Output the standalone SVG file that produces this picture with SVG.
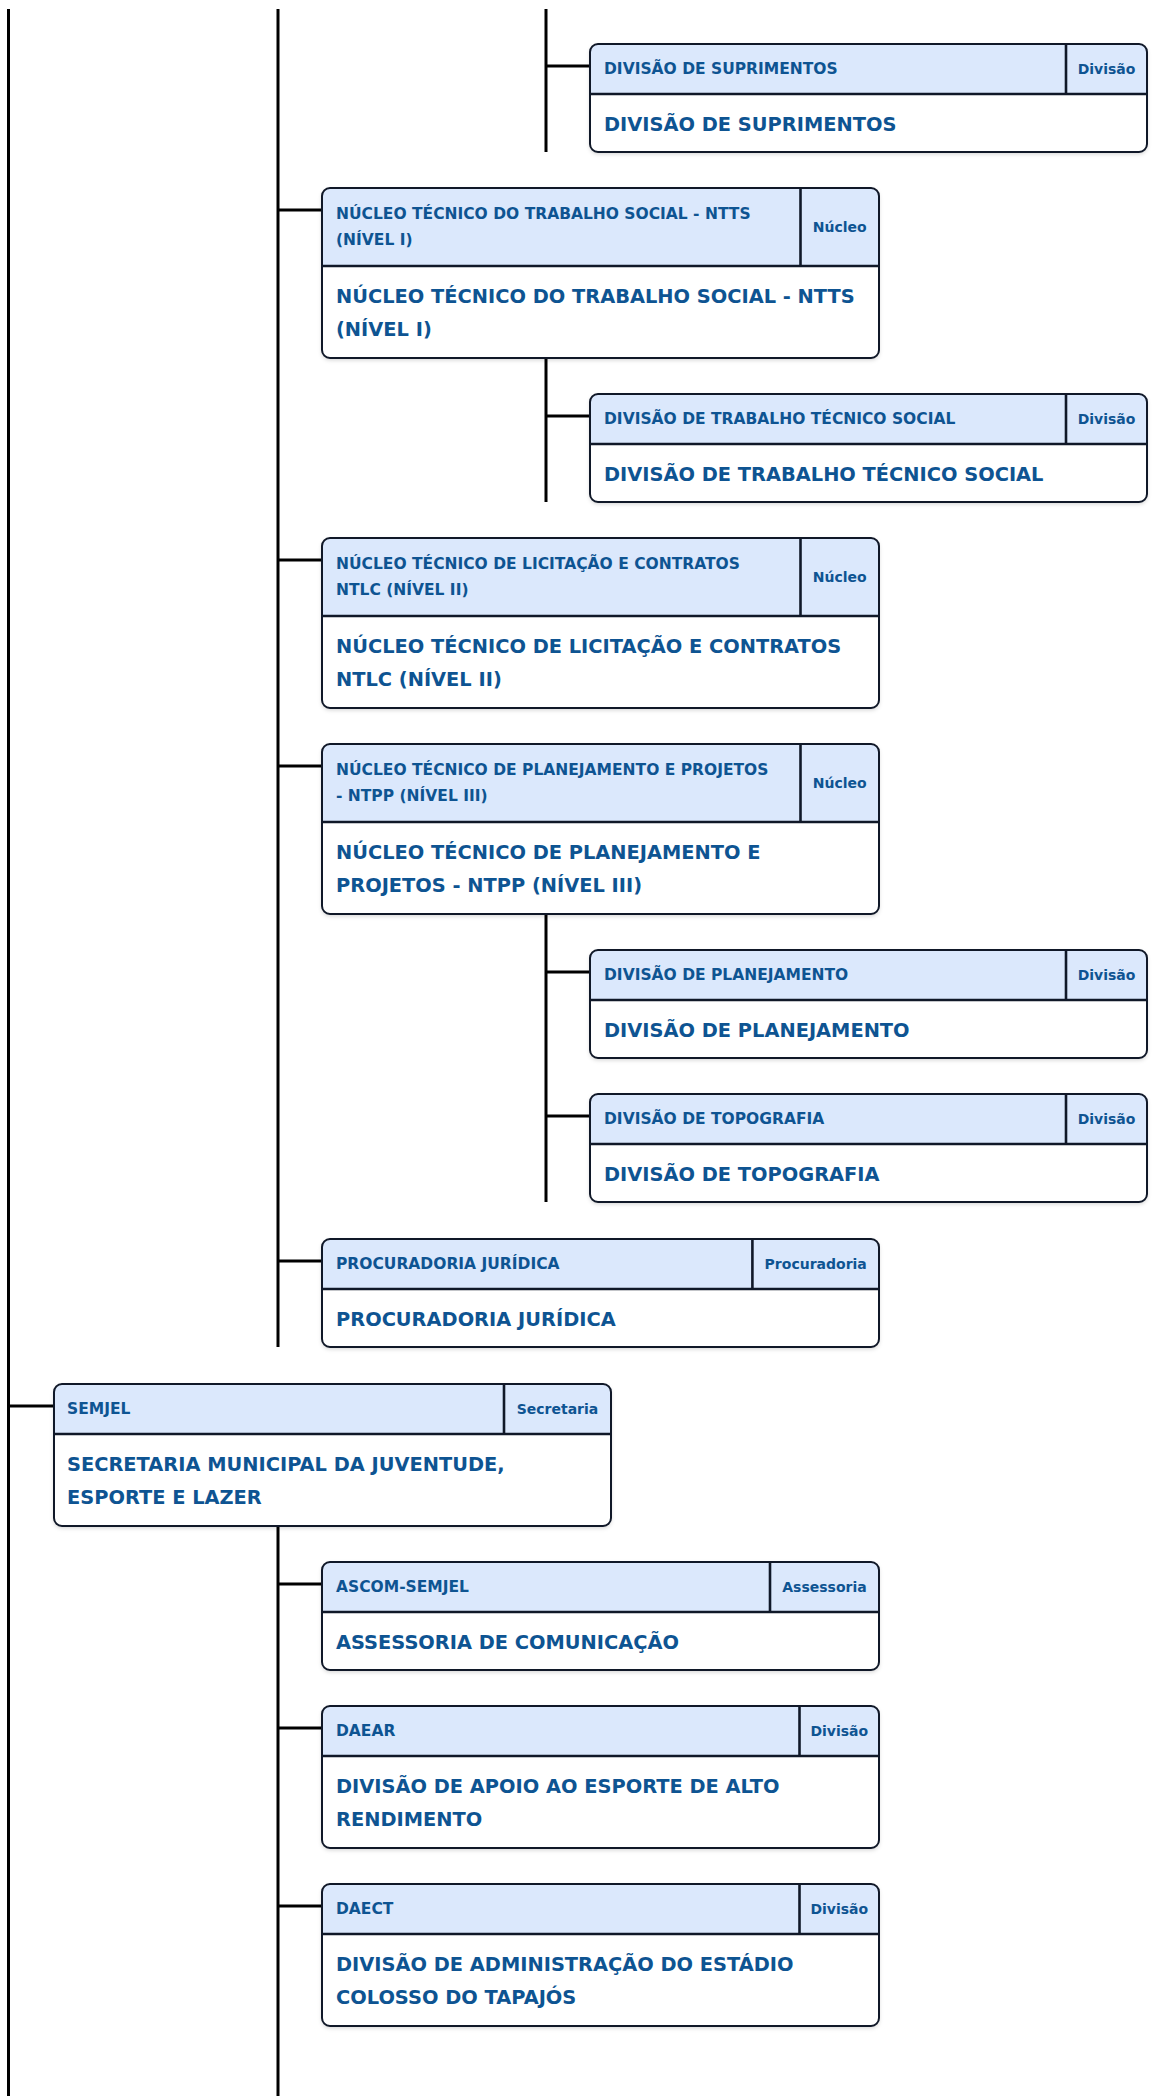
<svg xmlns="http://www.w3.org/2000/svg" width="1152" height="2096" viewBox="0 0 1152 2096">
<defs>
<filter id="sh" x="-5%" y="-10%" width="110%" height="130%">
<feDropShadow dx="0" dy="2" stdDeviation="2" flood-color="#000" flood-opacity="0.18"/>
</filter>
<style>
.bg{fill:#fff;filter:url(#sh)}
.head{fill:#dbe8fc}
.fr{fill:none;stroke:#101828;stroke-width:2}
.dv{stroke:#101828;stroke-width:2.6}
.ht{font-family:"DejaVu Sans",sans-serif;font-weight:bold;font-size:15.5px;fill:#0e5492}
.bt{font-family:"DejaVu Sans",sans-serif;font-weight:bold;font-size:19.4px;fill:#0e5492}
.bd{font-family:"DejaVu Sans",sans-serif;font-weight:bold;font-size:14px;fill:#0e5492;text-anchor:middle}
.cn{stroke:#000;stroke-width:3;fill:none}
</style>
</defs>
<rect width="1152" height="2096" fill="#fff"/>
<g id="connectors">
<path class="cn" d="M8.5 9V2096M278 9V1347M278 1526V2096M546 9V152M546 358V502M546 914V1202"/>
<path class="cn" d="M546 66H590M278 210H322M546 416H590M278 560H322M278 766H322M546 972H590M546 1116H590M278 1261H322M8.5 1406H54M278 1584H322M278 1728H322M278 1906H322"/>
</g>
<g id="div-suprimentos">
<rect class="bg" x="590" y="44" width="557" height="108" rx="8"/>
<path class="head" d="M590 94V52A8 8 0 0 1 598 44H1139A8 8 0 0 1 1147 52V94Z"/>
<line class="dv" x1="590" y1="94" x2="1147" y2="94"/><line class="dv" x1="1066" y1="44" x2="1066" y2="94"/>
<rect class="fr" x="590" y="44" width="557" height="108" rx="8"/>
<text class="ht" x="604" y="73.5">DIVISÃO DE SUPRIMENTOS</text>
<text class="bd" x="1106.5" y="74">Divisão</text>
<text class="bt" x="604" y="130.5">DIVISÃO DE SUPRIMENTOS</text>
</g>
<g id="ntts">
<rect class="bg" x="322" y="188" width="557" height="170" rx="8"/>
<path class="head" d="M322 266V196A8 8 0 0 1 330 188H871A8 8 0 0 1 879 196V266Z"/>
<line class="dv" x1="322" y1="266" x2="879" y2="266"/><line class="dv" x1="800.5" y1="188" x2="800.5" y2="266"/>
<rect class="fr" x="322" y="188" width="557" height="170" rx="8"/>
<text class="ht" x="336" y="219">NÚCLEO TÉCNICO DO TRABALHO SOCIAL - NTTS</text>
<text class="ht" x="336" y="245">(NÍVEL I)</text>
<text class="bd" x="839.75" y="232.3">Núcleo</text>
<text class="bt" x="336" y="302.5">NÚCLEO TÉCNICO DO TRABALHO SOCIAL - NTTS</text>
<text class="bt" x="336" y="336">(NÍVEL I)</text>
</g>
<g id="div-trabalho-tecnico-social">
<rect class="bg" x="590" y="394" width="557" height="108" rx="8"/>
<path class="head" d="M590 444V402A8 8 0 0 1 598 394H1139A8 8 0 0 1 1147 402V444Z"/>
<line class="dv" x1="590" y1="444" x2="1147" y2="444"/><line class="dv" x1="1066" y1="394" x2="1066" y2="444"/>
<rect class="fr" x="590" y="394" width="557" height="108" rx="8"/>
<text class="ht" x="604" y="423.5">DIVISÃO DE TRABALHO TÉCNICO SOCIAL</text>
<text class="bd" x="1106.5" y="424">Divisão</text>
<text class="bt" x="604" y="480.5">DIVISÃO DE TRABALHO TÉCNICO SOCIAL</text>
</g>
<g id="ntlc">
<rect class="bg" x="322" y="538" width="557" height="170" rx="8"/>
<path class="head" d="M322 616V546A8 8 0 0 1 330 538H871A8 8 0 0 1 879 546V616Z"/>
<line class="dv" x1="322" y1="616" x2="879" y2="616"/><line class="dv" x1="800.5" y1="538" x2="800.5" y2="616"/>
<rect class="fr" x="322" y="538" width="557" height="170" rx="8"/>
<text class="ht" x="336" y="569">NÚCLEO TÉCNICO DE LICITAÇÃO E CONTRATOS</text>
<text class="ht" x="336" y="595">NTLC (NÍVEL II)</text>
<text class="bd" x="839.75" y="582.3">Núcleo</text>
<text class="bt" x="336" y="652.5">NÚCLEO TÉCNICO DE LICITAÇÃO E CONTRATOS</text>
<text class="bt" x="336" y="686">NTLC (NÍVEL II)</text>
</g>
<g id="ntpp">
<rect class="bg" x="322" y="744" width="557" height="170" rx="8"/>
<path class="head" d="M322 822V752A8 8 0 0 1 330 744H871A8 8 0 0 1 879 752V822Z"/>
<line class="dv" x1="322" y1="822" x2="879" y2="822"/><line class="dv" x1="800.5" y1="744" x2="800.5" y2="822"/>
<rect class="fr" x="322" y="744" width="557" height="170" rx="8"/>
<text class="ht" x="336" y="775">NÚCLEO TÉCNICO DE PLANEJAMENTO E PROJETOS</text>
<text class="ht" x="336" y="801">- NTPP (NÍVEL III)</text>
<text class="bd" x="839.75" y="788.3">Núcleo</text>
<text class="bt" x="336" y="858.5">NÚCLEO TÉCNICO DE PLANEJAMENTO E</text>
<text class="bt" x="336" y="892">PROJETOS - NTPP (NÍVEL III)</text>
</g>
<g id="div-planejamento">
<rect class="bg" x="590" y="950" width="557" height="108" rx="8"/>
<path class="head" d="M590 1000V958A8 8 0 0 1 598 950H1139A8 8 0 0 1 1147 958V1000Z"/>
<line class="dv" x1="590" y1="1000" x2="1147" y2="1000"/><line class="dv" x1="1066" y1="950" x2="1066" y2="1000"/>
<rect class="fr" x="590" y="950" width="557" height="108" rx="8"/>
<text class="ht" x="604" y="979.5">DIVISÃO DE PLANEJAMENTO</text>
<text class="bd" x="1106.5" y="980">Divisão</text>
<text class="bt" x="604" y="1036.5">DIVISÃO DE PLANEJAMENTO</text>
</g>
<g id="div-topografia">
<rect class="bg" x="590" y="1094" width="557" height="108" rx="8"/>
<path class="head" d="M590 1144V1102A8 8 0 0 1 598 1094H1139A8 8 0 0 1 1147 1102V1144Z"/>
<line class="dv" x1="590" y1="1144" x2="1147" y2="1144"/><line class="dv" x1="1066" y1="1094" x2="1066" y2="1144"/>
<rect class="fr" x="590" y="1094" width="557" height="108" rx="8"/>
<text class="ht" x="604" y="1123.5">DIVISÃO DE TOPOGRAFIA</text>
<text class="bd" x="1106.5" y="1124">Divisão</text>
<text class="bt" x="604" y="1180.5">DIVISÃO DE TOPOGRAFIA</text>
</g>
<g id="procuradoria">
<rect class="bg" x="322" y="1239" width="557" height="108" rx="8"/>
<path class="head" d="M322 1289V1247A8 8 0 0 1 330 1239H871A8 8 0 0 1 879 1247V1289Z"/>
<line class="dv" x1="322" y1="1289" x2="879" y2="1289"/><line class="dv" x1="752.4" y1="1239" x2="752.4" y2="1289"/>
<rect class="fr" x="322" y="1239" width="557" height="108" rx="8"/>
<text class="ht" x="336" y="1268.5">PROCURADORIA JURÍDICA</text>
<text class="bd" x="815.7" y="1269">Procuradoria</text>
<text class="bt" x="336" y="1325.5">PROCURADORIA JURÍDICA</text>
</g>
<g id="semjel">
<rect class="bg" x="54" y="1384" width="557" height="142" rx="8"/>
<path class="head" d="M54 1434V1392A8 8 0 0 1 62 1384H603A8 8 0 0 1 611 1392V1434Z"/>
<line class="dv" x1="54" y1="1434" x2="611" y2="1434"/><line class="dv" x1="504" y1="1384" x2="504" y2="1434"/>
<rect class="fr" x="54" y="1384" width="557" height="142" rx="8"/>
<text class="ht" x="67" y="1413.5">SEMJEL</text>
<text class="bd" x="557.5" y="1414">Secretaria</text>
<text class="bt" x="67" y="1470.5">SECRETARIA MUNICIPAL DA JUVENTUDE,</text>
<text class="bt" x="67" y="1504">ESPORTE E LAZER</text>
</g>
<g id="ascom-semjel">
<rect class="bg" x="322" y="1562" width="557" height="108" rx="8"/>
<path class="head" d="M322 1612V1570A8 8 0 0 1 330 1562H871A8 8 0 0 1 879 1570V1612Z"/>
<line class="dv" x1="322" y1="1612" x2="879" y2="1612"/><line class="dv" x1="770" y1="1562" x2="770" y2="1612"/>
<rect class="fr" x="322" y="1562" width="557" height="108" rx="8"/>
<text class="ht" x="336" y="1591.5">ASCOM-SEMJEL</text>
<text class="bd" x="824.5" y="1592">Assessoria</text>
<text class="bt" x="336" y="1648.5">ASSESSORIA DE COMUNICAÇÃO</text>
</g>
<g id="daear">
<rect class="bg" x="322" y="1706" width="557" height="142" rx="8"/>
<path class="head" d="M322 1756V1714A8 8 0 0 1 330 1706H871A8 8 0 0 1 879 1714V1756Z"/>
<line class="dv" x1="322" y1="1756" x2="879" y2="1756"/><line class="dv" x1="799.5" y1="1706" x2="799.5" y2="1756"/>
<rect class="fr" x="322" y="1706" width="557" height="142" rx="8"/>
<text class="ht" x="336" y="1735.5">DAEAR</text>
<text class="bd" x="839.25" y="1736">Divisão</text>
<text class="bt" x="336" y="1792.5">DIVISÃO DE APOIO AO ESPORTE DE ALTO</text>
<text class="bt" x="336" y="1826">RENDIMENTO</text>
</g>
<g id="daect">
<rect class="bg" x="322" y="1884" width="557" height="142" rx="8"/>
<path class="head" d="M322 1934V1892A8 8 0 0 1 330 1884H871A8 8 0 0 1 879 1892V1934Z"/>
<line class="dv" x1="322" y1="1934" x2="879" y2="1934"/><line class="dv" x1="799.5" y1="1884" x2="799.5" y2="1934"/>
<rect class="fr" x="322" y="1884" width="557" height="142" rx="8"/>
<text class="ht" x="336" y="1913.5">DAECT</text>
<text class="bd" x="839.25" y="1914">Divisão</text>
<text class="bt" x="336" y="1970.5">DIVISÃO DE ADMINISTRAÇÃO DO ESTÁDIO</text>
<text class="bt" x="336" y="2004">COLOSSO DO TAPAJÓS</text>
</g>
</svg>
